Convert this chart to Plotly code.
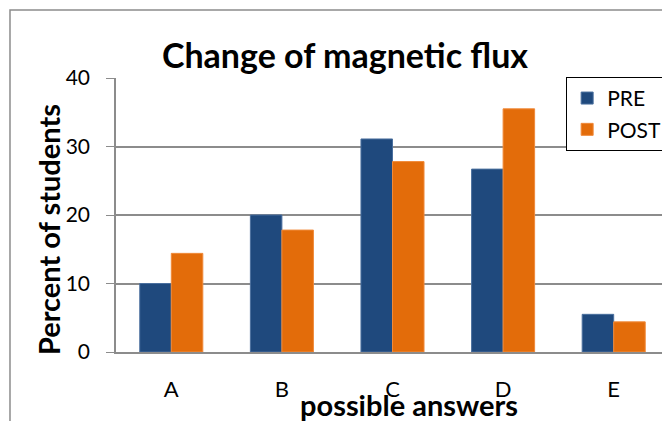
import plotly.graph_objects as go

# data
answers = ['A', 'B', 'C', 'D', 'E']
pre = [10.0, 20.0, 31.1, 26.7, 5.5]
post = [14.4, 17.8, 27.8, 35.5, 4.4]
y_ticks = [0, 10, 20, 30, 40]

FONT = 'Lato, Open Sans, sans-serif'
GRID = '#8c8c8c'

fig = go.Figure()
fig.add_trace(go.Bar(x=answers, y=pre, name='PRE', legendgroup='pre',
                     marker=dict(color='#1f497d', line=dict(color='#4a6f9e', width=1))))
fig.add_trace(go.Bar(x=answers, y=post, name='POST', legendgroup='post',
                     marker=dict(color='#e36c0a', line=dict(color='#f08a3a', width=1))))

# the page has an 8px body margin, so the plot area is shifted by that much
fig.update_layout(
    width=670, height=421,
    margin=dict(l=108, r=9, t=70, b=77),
    paper_bgcolor='white', plot_bgcolor='white',
    font=dict(family=FONT, size=21, color='black'),
    barmode='group', bargap=0.43, bargroupgap=0,
    title=dict(text='<b>Change of magnetic flux</b>', x=337/670, xanchor='center',
               y=1-48/421, yanchor='middle', font=dict(size=34, family=FONT)),
    legend=dict(x=0.814, y=1.004, xanchor='left', yanchor='top',
                bordercolor='black', borderwidth=1, bgcolor='white',
                font=dict(size=21), tracegroupgap=1, itemwidth=30),
    xaxis=dict(showgrid=False, showline=True, linecolor=GRID, linewidth=1.5,
               ticks='', ticklabelstandoff=17, tickfont=dict(size=22),
               automargin=False),
    yaxis=dict(range=[0, 40], tickvals=y_ticks, showgrid=True, gridcolor=GRID,
               gridwidth=1.5, showline=True, linecolor=GRID, linewidth=1.5,
               ticks='outside', ticklen=8, tickcolor=GRID, ticklabelstandoff=12,
               zeroline=False, tickfont=dict(size=21), automargin=False),
    annotations=[
        dict(text='<b>possible answers</b>', xref='paper', yref='paper',
             x=0.530, y=-0.193, xanchor='center', yanchor='middle',
             showarrow=False, font=dict(size=29)),
        dict(text='<b>Percent of students</b>', xref='paper', yref='paper',
             x=-0.122, y=0.447, xanchor='center', yanchor='middle',
             textangle=-90, showarrow=False, font=dict(size=29)),
    ],
    shapes=[
        dict(type='rect', xref='paper', yref='paper', x0=-0.1917, y0=-0.5,
             x1=1.2, y1=1.248, line=dict(color=GRID, width=1.5), layer='below'),
    ],
)

fig.write_html('out.html')
